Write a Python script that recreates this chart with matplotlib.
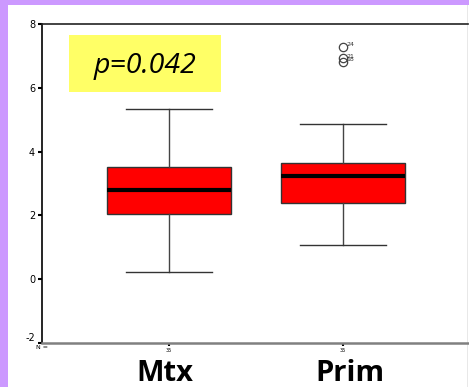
import matplotlib
matplotlib.use('Agg')
import matplotlib.pyplot as plt
from matplotlib.patches import Rectangle
matplotlib.rcParams['axes.unicode_minus'] = False

# group summaries (box plot stats)
groups = ['Mtx', 'Prim']
n_per_group = ['35', '35']
whisker_lo = [0.22, 1.07]
q1 = [2.05, 2.38]
medians = [2.80, 3.25]
q3 = [3.52, 3.63]
whisker_hi = [5.32, 4.88]
outliers = [[], [7.29, 6.92, 6.81]]
outlier_ids = [[], ['24', '21', '18']]
p_text = 'p=0.042'

W, H = 469, 387
fig = plt.figure(figsize=(W / 100., H / 100.), dpi=100)
fig.patch.set_facecolor('#cc99ff')
fig.add_artist(Rectangle((8. / W, 0), 1 - 8. / W, 1 - 5. / H, transform=fig.transFigure,
                         facecolor='white', edgecolor='none', zorder=0))
fig.add_artist(Rectangle((467. / W, 0), 1. / W, 1 - 5. / H, transform=fig.transFigure,
                         facecolor='#e8e8e8', edgecolor='none', zorder=0))

ax = fig.add_axes([42. / W, (H - 343.) / H, 426. / W, (343. - 24.) / H])
ax.set_facecolor('none')

stats = []
for i in range(len(groups)):
    stats.append(dict(med=medians[i], q1=q1[i], q3=q3[i], whislo=whisker_lo[i],
                      whishi=whisker_hi[i], fliers=outliers[i], label=groups[i]))

ax.bxp(stats, positions=[1, 2], widths=0.713, patch_artist=True, showfliers=True,
       boxprops=dict(facecolor='#ff0000', edgecolor='#333333', linewidth=1.0),
       medianprops=dict(color='black', linewidth=3.0),
       whiskerprops=dict(color='#444444', linewidth=1.0),
       capprops=dict(color='#333333', linewidth=1.0),
       capwidths=0.494,
       flierprops=dict(marker='o', markerfacecolor='none', markeredgecolor='#444444',
                       markersize=6, markeredgewidth=0.9))

for i in range(len(groups)):
    for v, lab in zip(outliers[i], outlier_ids[i]):
        ax.annotate(lab, (i + 1, v), xytext=(2.5, 1.5), textcoords='offset points',
                    fontsize=4.5, color='#333333', va='center')

ax.set_xlim(0.270, 2.718)
ax.set_ylim(-2, 8)
ax.set_yticks([-2, 0, 2, 4, 6, 8])
ax.tick_params(axis='y', direction='out', length=3, width=1.5, labelsize=7, pad=2)
ax.get_yticklabels()[0].set_verticalalignment('bottom')
ax.set_xticks([1, 2])
ax.set_xticklabels(n_per_group, fontsize=3.5)
ax.tick_params(axis='x', direction='out', length=2.5, width=1.5, pad=1)

ax.spines['right'].set_visible(False)
ax.spines['top'].set_color('#222222')
ax.spines['top'].set_linewidth(1.2)
ax.spines['left'].set_color('black')
ax.spines['left'].set_linewidth(1.2)
ax.spines['bottom'].set_color('#808080')
ax.spines['bottom'].set_linewidth(1.8)

ax.text(-0.014, -0.006, 'N =', transform=ax.transAxes, fontsize=4.5, ha='left', va='top')

label_shift = [-0.026, 0.04]
for i, g in enumerate(groups):
    ax.text(i + 1 + label_shift[i], -3.2, g, fontsize=21, fontweight='bold', family='Open Sans',
            ha='center', va='baseline', clip_on=False)

# p-value label on yellow panel
ax.add_patch(Rectangle((0.425, 5.88), 0.874, 1.78, facecolor='#ffff66', edgecolor='none',
                       zorder=1))
ax.text(0.862, 6.68, p_text, fontsize=20.5, style='italic', family='Open Sans',
        ha='center', va='center', zorder=2)

fig.savefig('out.png', dpi=100)
